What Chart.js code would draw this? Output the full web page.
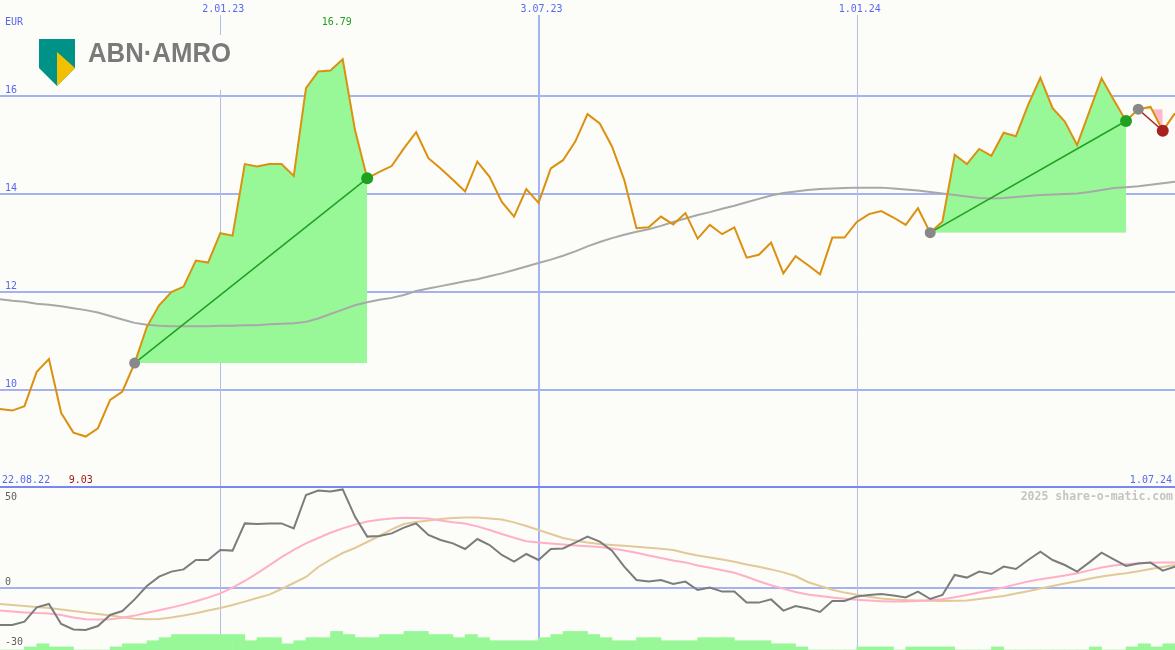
<!DOCTYPE html>
<html>
<head>
<meta charset="utf-8">
<script src="https://cdn.jsdelivr.net/npm/chart.js@4.4.1/dist/chart.umd.min.js"></script>
<style>
html, body { margin: 0; padding: 0; background: #fcfdf8; }
#wrap { width: 1175px; height: 650px; }
</style>
</head>
<body>
<div id="wrap"><canvas id="chart" width="1175" height="650"></canvas></div>
<script>
// weekly closes, index 0 = 29.08.22 ... index 96 = 1.07.24
const price = [
  9.61, 9.58, 9.67, 10.37, 10.63, 9.53, 9.13, 9.05, 9.22, 9.80,
  9.97, 10.55, 11.29, 11.73, 12.00, 12.11, 12.64, 12.60, 13.20, 13.15,
  14.61, 14.56, 14.61, 14.61, 14.37, 16.16, 16.50, 16.52, 16.75, 15.31,
  14.32, 14.45, 14.57, 14.93, 15.26, 14.73, 14.52, 14.29, 14.05, 14.66,
  14.35, 13.84, 13.54, 14.10, 13.82, 14.52, 14.69, 15.07, 15.63, 15.44,
  14.97, 14.29, 13.30, 13.32, 13.54, 13.38, 13.61, 13.09, 13.37, 13.18,
  13.32, 12.70, 12.76, 13.01, 12.38, 12.73, 12.55, 12.36, 13.11, 13.11,
  13.43, 13.59, 13.65, 13.52, 13.37, 13.71, 13.21, 13.44, 14.80, 14.61,
  14.92, 14.78, 15.25, 15.18, 15.82, 16.37, 15.75, 15.48, 15.00, 15.68,
  16.36, 15.92, 15.49, 15.73, 15.78, 15.29, 15.65
];
const avg = [
  11.85, 11.82, 11.80, 11.76, 11.74, 11.71, 11.67, 11.63, 11.58, 11.51,
  11.44, 11.37, 11.33, 11.31, 11.30, 11.30, 11.30, 11.30, 11.31, 11.31,
  11.32, 11.32, 11.34, 11.35, 11.36, 11.39, 11.46, 11.55, 11.64, 11.73,
  11.79, 11.84, 11.88, 11.94, 12.02, 12.07, 12.12, 12.17, 12.22, 12.26,
  12.32, 12.38, 12.45, 12.52, 12.59, 12.66, 12.74, 12.83, 12.93, 13.02,
  13.10, 13.17, 13.23, 13.28, 13.35, 13.43, 13.50, 13.57, 13.63, 13.70,
  13.76, 13.83, 13.90, 13.97, 14.02, 14.05, 14.08, 14.10, 14.11, 14.12,
  14.13, 14.13, 14.13, 14.11, 14.09, 14.07, 14.04, 14.01, 13.98, 13.95,
  13.92, 13.91, 13.92, 13.94, 13.96, 13.98, 13.99, 14.00, 14.01, 14.04,
  14.08, 14.12, 14.14, 14.16, 14.19, 14.22, 14.25
];
const osc = [
  -18.5, -18.5, -16.8, -9.7, -8.0, -18.0, -20.7, -21.0, -19.0, -13.5,
  -11.5, -5.7, 1.0, 5.7, 8.2, 9.3, 14.0, 14.0, 19.0, 18.7,
  32.3, 32.0, 32.3, 32.3, 29.8, 46.5, 48.7, 48.2, 49.3, 35.7,
  25.7, 26.0, 27.3, 30.2, 32.3, 26.5, 24.0, 22.3, 19.5, 24.5,
  21.5, 16.5, 13.2, 17.0, 14.0, 19.5, 19.8, 22.7, 25.7, 23.2,
  18.7, 10.7, 4.0, 3.2, 4.0, 2.0, 3.2, -1.0, 0.2, -1.8,
  -1.8, -7.3, -7.3, -5.7, -11.3, -9.0, -10.2, -12.0, -6.5, -6.5,
  -4.3, -3.5, -3.0, -3.8, -4.7, -1.8, -5.5, -3.5, 6.5, 5.2,
  8.2, 7.0, 10.7, 9.5, 14.0, 18.2, 14.0, 11.5, 8.2, 12.8,
  17.7, 14.3, 11.0, 12.3, 12.7, 8.7, 10.7
];
const oscFast = [
  -11.3, -11.8, -12.2, -12.5, -12.7, -13.5, -14.7, -15.6, -15.7, -15.6,
  -14.9, -13.8, -12.4, -11.1, -9.8, -8.3, -6.6, -4.8, -2.7, 0.2,
  3.5, 7.3, 11.3, 15.4, 19.1, 22.3, 25.0, 27.6, 29.8, 31.7,
  33.2, 34.1, 34.7, 35.1, 35.0, 34.7, 33.8, 32.9, 32.2, 30.8,
  29.0, 27.0, 25.1, 23.4, 22.7, 22.3, 21.8, 21.3, 20.9, 20.5,
  19.8, 18.8, 17.6, 16.3, 15.0, 13.8, 12.8, 11.3, 10.1, 8.9,
  7.6, 5.6, 3.4, 1.4, -0.3, -2.0, -3.2, -4.0, -4.7, -5.4,
  -5.9, -6.3, -6.6, -6.8, -6.8, -6.5, -6.1, -5.6, -4.6, -3.5,
  -2.3, -1.0, 0.3, 1.8, 3.2, 4.4, 5.3, 6.2, 7.4, 8.8,
  10.2, 11.2, 11.9, 12.4, 12.6, 12.7, 12.7
];
const oscSlow = [
  -8.0, -8.5, -9.0, -9.5, -10.0, -10.8, -11.5, -12.2, -13.0, -13.8,
  -14.6, -15.4, -15.6, -15.5, -14.8, -13.8, -12.6, -11.3, -10.0, -8.5,
  -6.8, -5.0, -3.3, -0.5, 2.5, 5.5, 10.5, 14.2, 17.5, 20.0,
  23.0, 26.0, 29.3, 32.0, 33.0, 33.8, 34.5, 35.0, 35.2, 35.2,
  34.8, 34.2, 32.8, 31.0, 29.0, 27.0, 25.0, 23.8, 22.8, 22.0,
  21.5, 21.1, 20.6, 20.1, 19.6, 19.0, 17.5, 16.2, 15.2, 14.2,
  13.1, 11.8, 10.6, 9.3, 7.8, 6.0, 3.0, 1.0, -0.9, -2.3,
  -3.4, -4.4, -5.2, -5.8, -6.1, -6.3, -6.4, -6.5, -6.4, -6.2,
  -5.5, -4.8, -4.0, -2.8, -1.6, -0.3, 1.0, 2.2, 3.4, 4.6,
  5.8, 6.6, 7.4, 8.4, 9.5, 10.5, 11.5
];
// histogram, one value per week interval
const histo = [
  0, 0, 1, 2, 1, 1, 0, 0, 0, 1,
  2, 2, 3, 4, 5, 5, 5, 5, 5, 5,
  3, 4, 4, 2, 3, 4, 4, 6, 5, 4,
  4, 5, 5, 6, 6, 5, 5, 4, 5, 4,
  3, 3, 3, 3, 4, 5, 6, 6, 5, 4,
  3, 3, 4, 4, 3, 3, 3, 4, 4, 4,
  3, 3, 3, 2, 2, 1, 0, 0, 0, 0,
  1, 1, 1, 0, 1, 1, 1, 1, 0, 0,
  0, 1, 0, 0, 0, 0, 0, 0, 0, 1,
  0, 0, 1, 2, 1, 2
];
const priceTicks = [16, 14, 12, 10];
const oscTicks = [50, 0, -30];
const dateTicks = [
  { i: 18, label: '2.01.23', major: false },
  { i: 44, label: '3.07.23', major: true },
  { i: 70, label: '1.01.24', major: false }
];
// trend segments: start week, end week
const trends = [
  { from: 11, to: 30, up: true },
  { from: 76, to: 92, up: true },
  { from: 93, to: 95, up: false }
];
const hiIdx = 28, hiLabel = '16.79';
const loIdx = 7, loLabel = '9.03';

const pts = (arr, start = 0) => arr.map((v, k) => ({ x: start + k, y: v }));

const GREEN_FILL = '#98f898';
const datasets = [];

trends.forEach(t => {
  const base = price[t.from];
  datasets.push({
    data: pts(price.slice(t.from, t.to + 1), t.from),
    yAxisID: 'yP',
    borderWidth: 0,
    pointRadius: 0,
    backgroundColor: GREEN_FILL,
    fill: { value: base, above: GREEN_FILL, below: '#ffb8c8' },
    order: 20
  });
});

datasets.push({
  type: 'bar',
  data: histo.map((v, i) => ({ x: i + 0.5, y: v })),
  yAxisID: 'yH',
  backgroundColor: GREEN_FILL,
  borderWidth: 0,
  barPercentage: 1,
  categoryPercentage: 1,
  order: 15
});

datasets.push({ data: pts(avg), yAxisID: 'yP', borderColor: '#a8a8a8', borderWidth: 2, pointRadius: 0, order: 12 });
datasets.push({ data: pts(oscSlow), yAxisID: 'yO', borderColor: '#e2c998', borderWidth: 2, pointRadius: 0, order: 11 });
datasets.push({ data: pts(oscFast), yAxisID: 'yO', borderColor: '#ffb0c8', borderWidth: 2, pointRadius: 0, order: 10 });
datasets.push({ data: pts(osc), yAxisID: 'yO', borderColor: '#7c7c7c', borderWidth: 2, pointRadius: 0, order: 9 });
datasets.push({ data: pts(price), yAxisID: 'yP', borderColor: '#dc9010', borderWidth: 2, pointRadius: 0, order: 5 });

trends.forEach(t => {
  const col = t.up ? '#20a020' : '#a82020';
  datasets.push({
    data: [{ x: t.from, y: price[t.from] }, { x: t.to, y: price[t.to] }],
    yAxisID: 'yP',
    borderColor: col,
    borderWidth: 1.5,
    pointRadius: [5.5, 6],
    pointBorderWidth: 0,
    pointBackgroundColor: ['#888888', col],
    order: 1
  });
});

const panels = {
  id: 'panels',
  beforeDraw(chart) {
    const ctx = chart.ctx;
    ctx.save();
    ctx.fillStyle = '#fcfdf8';
    ctx.fillRect(0, 0, chart.width, chart.height);
    ctx.restore();
  },
  beforeDatasetsDraw(chart) {
    const { ctx, scales } = chart;
    const { x, yP, yO } = scales;
    const W = chart.width;
    ctx.save();
    ctx.strokeStyle = '#a4b2f0';
    ctx.lineWidth = 2;
    priceTicks.forEach(v => {
      const y = Math.round(yP.getPixelForValue(v));
      ctx.beginPath(); ctx.moveTo(0, y); ctx.lineTo(W, y); ctx.stroke();
    });
    const y0 = Math.round(yO.getPixelForValue(0));
    ctx.beginPath(); ctx.moveTo(0, y0); ctx.lineTo(W, y0); ctx.stroke();

    dateTicks.forEach(d => {
      const px = x.getPixelForValue(d.i);
      ctx.strokeStyle = d.major ? '#a4b2f0' : '#b4bce8';
      ctx.lineWidth = d.major ? 2 : 1;
      const xx = d.major ? Math.round(px) : Math.round(px) + 0.5;
      ctx.beginPath(); ctx.moveTo(xx, 15); ctx.lineTo(xx, chart.height); ctx.stroke();
    });

    // panel separator
    const ys = Math.round(yO.getPixelForValue(oscTicks[0])) - 1;
    ctx.strokeStyle = '#7888f0';
    ctx.lineWidth = 2;
    ctx.beginPath(); ctx.moveTo(0, ys); ctx.lineTo(W, ys); ctx.stroke();

    // logo
    ctx.fillStyle = '#fcfdf8';
    ctx.fillRect(34, 35, 200, 55);
    ctx.fillStyle = '#009286';
    ctx.beginPath();
    ctx.moveTo(39, 39); ctx.lineTo(75, 39); ctx.lineTo(75, 68);
    ctx.lineTo(57, 86); ctx.lineTo(39, 68); ctx.closePath(); ctx.fill();
    ctx.fillStyle = '#f3c000';
    ctx.beginPath();
    ctx.moveTo(57, 52); ctx.lineTo(75, 68); ctx.lineTo(57, 86); ctx.closePath(); ctx.fill();
    ctx.fillStyle = '#7a7a7a';
    ctx.font = 'bold 28px "Liberation Sans", Arial, sans-serif';
    ctx.textBaseline = 'alphabetic';
    ctx.textAlign = 'left';
    ctx.fillText('ABN\u00B7AMRO', 88, 62, 143);
    ctx.restore();
  },
  afterDraw(chart) {
    const { ctx, scales } = chart;
    const { x, yP, yO } = scales;
    ctx.save();
    ctx.font = '10px "DejaVu Sans Mono", monospace';
    ctx.textBaseline = 'alphabetic';
    ctx.fillStyle = '#5868f0';
    ctx.textAlign = 'left';
    ctx.fillText('EUR', 5, 25);
    priceTicks.forEach(v => ctx.fillText(String(v), 5, Math.round(yP.getPixelForValue(v)) - 3));
    ctx.textAlign = 'center';
    dateTicks.forEach(d => ctx.fillText(d.label, x.getPixelForValue(d.i) + 3, 12));
    ctx.textAlign = 'left';
    ctx.fillText('22.08.22', 2, 483);
    ctx.textAlign = 'right';
    ctx.fillText('1.07.24', 1172, 483);

    ctx.textAlign = 'center';
    ctx.fillStyle = '#20a020';
    ctx.fillText(hiLabel, x.getPixelForValue(hiIdx) - 6, 25);
    ctx.fillStyle = '#a01818';
    ctx.fillText(loLabel, x.getPixelForValue(loIdx) - 5, 483);

    ctx.textAlign = 'left';
    ctx.fillStyle = '#606060';
    oscTicks.forEach(v => {
      const y = yO.getPixelForValue(v);
      ctx.fillText(String(v), 5, v === oscTicks[0] ? y + 12 : y - 3);
    });

    ctx.font = 'bold 11.5px "DejaVu Sans Mono", monospace';
    ctx.fillStyle = '#c4c4c4';
    ctx.textAlign = 'right';
    ctx.fillText('2025 share-o-matic.com', 1173, 500);
    ctx.restore();
  }
};

new Chart(document.getElementById('chart'), {
  type: 'line',
  data: { datasets: datasets },
  options: {
    responsive: false,
    devicePixelRatio: 1,
    animation: false,
    layout: { padding: 0, autoPadding: false },
    elements: { line: { tension: 0 } },
    plugins: { legend: { display: false }, tooltip: { enabled: false } },
    scales: {
      x: { type: 'linear', min: 0, max: 96, offset: false, display: false },
      yP: { type: 'linear', min: 4.694, max: 17.959, display: false },
      yO: { type: 'linear', min: -31, max: 294, display: false },
      yH: { type: 'linear', min: 0, max: 210, display: false }
    }
  },
  plugins: [panels]
});
</script>
</body>
</html>
